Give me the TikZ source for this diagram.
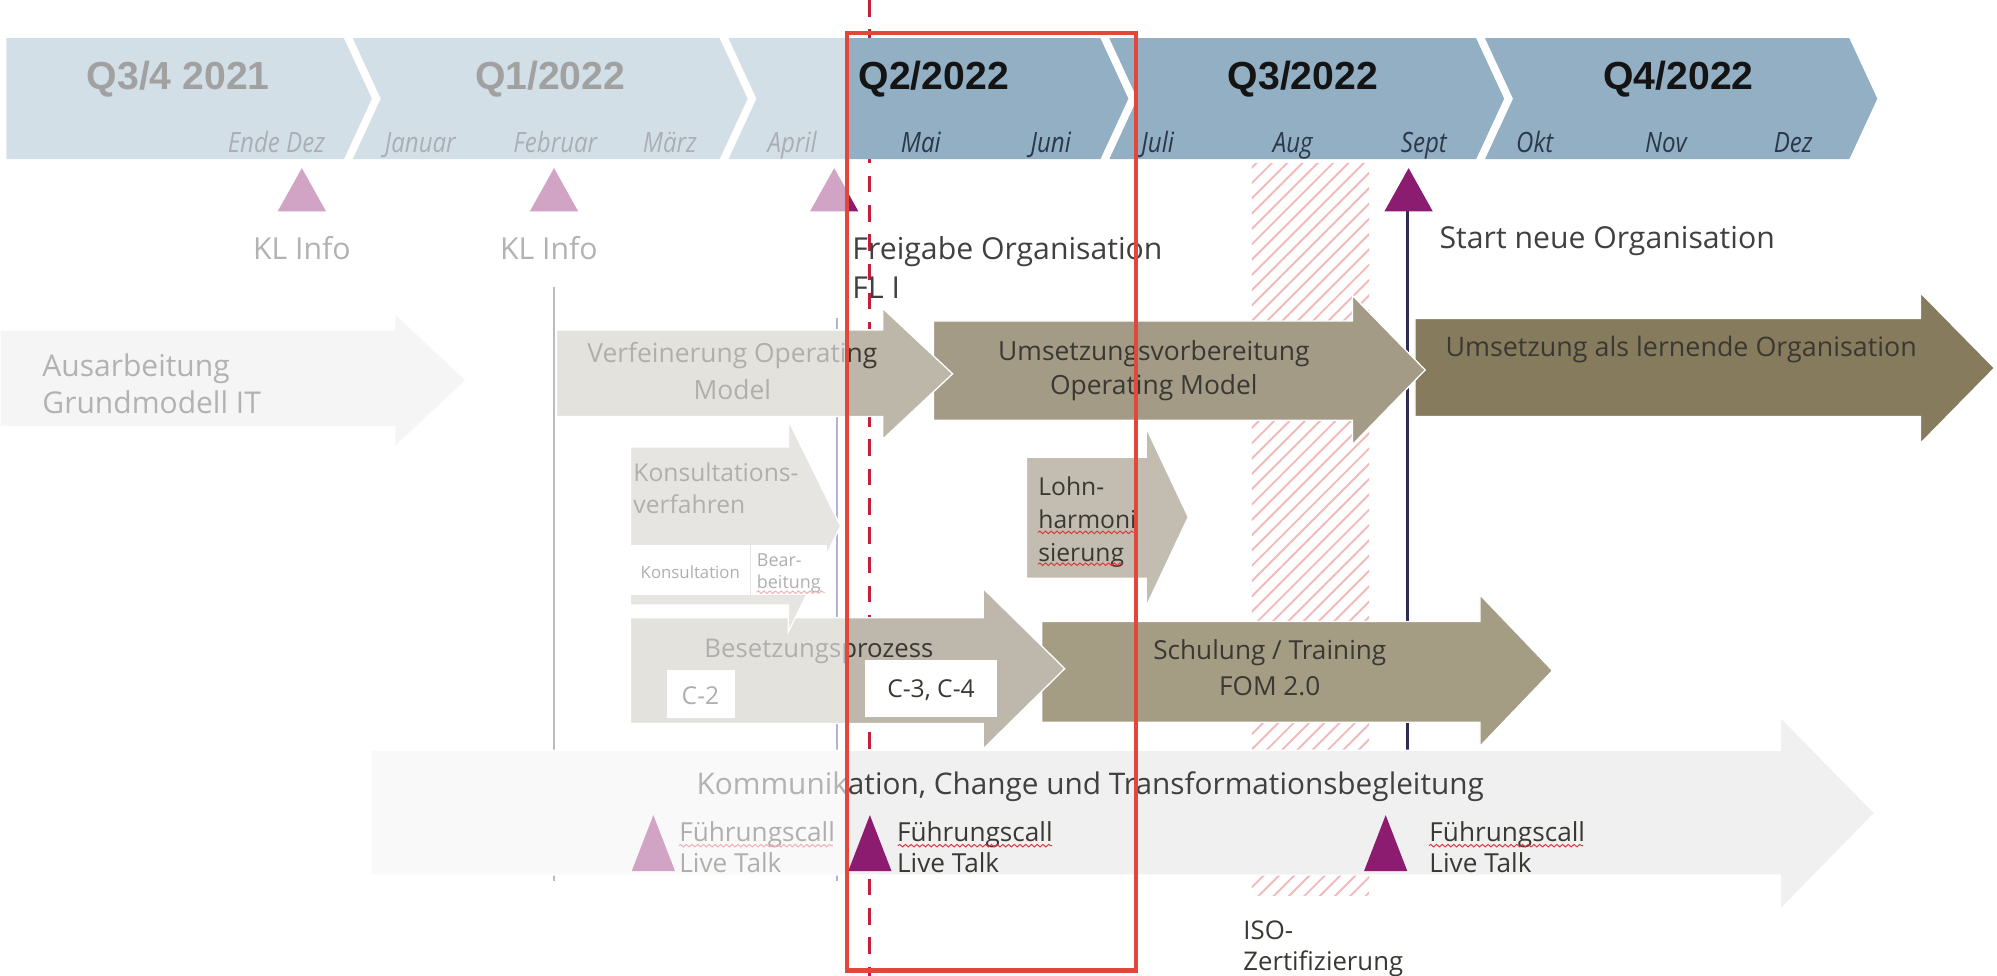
\documentclass[tikz,border=0pt]{standalone}
\usepackage{fontspec}
\setmainfont{Open Sans}
\newfontfamily\quarterfont{Liberation Sans}
\newfontfamily\monthfont[FakeStretch=0.86]{Open Sans}
\usetikzlibrary{patterns.meta,decorations.pathmorphing}

\definecolor{bandblue}{HTML}{93AFC4}
\definecolor{qtext}{HTML}{141414}
\definecolor{mtext}{HTML}{2A3848}
\definecolor{ptext}{HTML}{3A3833}
\definecolor{gtext}{HTML}{404040}
\definecolor{kommu}{HTML}{F0F0F0}
\definecolor{ausarb}{HTML}{E6E6E6}
\definecolor{verfein}{HTML}{BCB7A8}
\definecolor{umsvorb}{HTML}{A39B86}
\definecolor{umslern}{HTML}{867C5D}
\definecolor{schulung}{HTML}{A59C84}
\definecolor{besetz}{HTML}{BDB8AB}
\definecolor{lohn}{HTML}{C2BDB0}
\definecolor{konsult}{HTML}{C4C0B6}
\definecolor{milestone}{HTML}{8C1C6F}
\definecolor{navyline}{HTML}{2C2C54}
\definecolor{greyline}{HTML}{555566}
\definecolor{aprilline}{HTML}{44448C}
\definecolor{redbox}{HTML}{E2473B}
\definecolor{reddash}{HTML}{C41E3A}
\definecolor{hatchpink}{HTML}{F3B9B9}
\definecolor{squigred}{HTML}{E0353A}

\begin{document}
\begin{tikzpicture}[x=0.2mm, y=-0.2mm,
	quarter/.style={anchor=base, text=qtext, font=\quarterfont\bfseries\fontsize{17.5}{20}\selectfont},
	month/.style={anchor=base, text=mtext, font=\monthfont\itshape\fontsize{12.5}{14}\selectfont},
	note/.style={anchor=base west, align=left, inner sep=0pt, text=gtext, font=\fontsize{13.5}{17}\selectfont},
	phase/.style={anchor=base, align=center, inner sep=0pt, text=ptext, font=\fontsize{11.8}{15.5}\selectfont},
	smalltext/.style={anchor=base west, align=left, inner sep=0pt, text=ptext, font=\fontsize{11.5}{13.7}\selectfont},
	whitebox/.style={fill=white},
	squiggle/.style={draw=squigred, line width=0.15mm, decorate, decoration={snake, amplitude=0.2mm, segment length=0.9mm}}
]
	\useasboundingbox (0,0) rectangle (1568,766);

	% hatched ISO period and milestone lines
	\fill[pattern={Lines[angle=45,distance=1.7mm,line width=0.3mm]}, pattern color=hatchpink] (983,128) rectangle (1075,703);
	\coordinate (feb top) at (435,225);
	\coordinate (feb end) at (435,692);
	\coordinate (apr top) at (657,250);
	\coordinate (apr end) at (657,692);
	\coordinate (sept top) at (1105,166);
	\coordinate (sept end) at (1105,590);
	\draw[greyline, line width=0.35mm] (feb top) -- (feb end);
	\draw[aprilline, line width=0.35mm] (apr top) -- (apr end);
	\draw[navyline, line width=0.45mm] (sept top) -- (sept end);
	\draw[reddash, line width=0.5mm, dash pattern=on 2.6mm off 2mm] (683,0) -- (683,766);

	% quarter band
	\fill[bandblue] (5,30) -- (270,30) -- (292,77.5) -- (270,125) -- (5,125) -- cycle;
	\foreach \l / \r in { 277/565, 572/864, 871/1159, 1166/1452 }
	\fill[bandblue] (\l,30) -- (\r,30) -- (\r+22,77.5) -- (\r,125) -- (\l,125) -- (\l+22,77.5) -- cycle;
	\draw (140,70) node[quarter] (q34) {Q3/4 2021};
	\draw (432,70) node[quarter] (q1) {Q1/2022};
	\draw (668,70) node[quarter, anchor=base west] (q2) {Q2/2022};
	\draw (1023,70) node[quarter] (q3) {Q3/2022};
	\draw (1318,70) node[quarter] (q4) {Q4/2022};
	\foreach \x / \m in { 217/Ende Dez, 330/Januar, 436/Februar, 526/März, 622/April, 723/Mai, 825/Juni, 909/Juli, 1015/Aug, 1118/Sept, 1205/Okt, 1308/Nov, 1408/Dez }
	\draw (\x,120) node[month] (m\x) {\m};

	% phase arrows: colour / left / head base / tip / body top / body bottom / head top / head bottom
	\foreach \c / \xl / \xb / \xt / \bt / \bb / \ht / \hb in {
		kommu/291/1398/1472/589/687/563/714,
		umslern/1111/1508/1566/250/327/230/348,
		umsvorb/733/1062/1119/252/330/232/349,
		verfein/437/693/748/259/327/242/345,
		ausarb/0/310/366/259/335/246/351,
		schulung/818/1162/1219/488/567/467/586,
		besetz/495/772/836/485/568/462/588,
		lohn/806/900/933/359/454/336/476,
		konsult/495/619/660/351/475/330/496 }
	\filldraw[fill=\c, draw=white, line width=0.2mm] (\xl,\bt) -- (\xb,\bt) -- (\xb,\ht) -- (\xt,{(\ht+\hb)/2}) -- (\xb,\hb) -- (\xb,\bb) -- (\xl,\bb) -- cycle;
	\fill[whitebox] (491,428) rectangle (589,467);
	\fill[whitebox] (590,428) rectangle (649,467);
	\fill[whitebox] (524,526) rectangle (577,564);
	\fill[whitebox] (679,518) rectangle (783,563);

	% milestones
	\foreach \x in { 237, 435, 655, 1106 }
	\fill[milestone] (\x,132) -- (\x+19,166) -- (\x-19,166) -- cycle;
	\foreach \x in { 513, 683, 1088 }
	\fill[milestone] (\x,640) -- (\x+17,684) -- (\x-17,684) -- cycle;

	% texts (multi-line nodes sit on the baseline of their last line)
	\draw (237,204) node[note, anchor=base] (kl1) {KL Info};
	\draw (431,204) node[note, anchor=base] (kl2) {KL Info};
	\draw (669,234) node[note] (freigabe) {Freigabe Organisation\\FL I};
	\draw (1130,195) node[note] (start) {Start neue Organisation};
	\draw (33,325) node[note, font=\fontsize{13.4}{16.5}\selectfont] (ausarbeitung) {Ausarbeitung\\Grundmodell IT};
	\draw (575,314) node[phase, font=\fontsize{11.8}{16.5}\selectfont] (verfeinerung) {Verfeinerung Operating\\Model};
	\draw (906,310) node[phase] (vorbereitung) {Umsetzungsvorbereitung\\Operating Model};
	\draw (1320,280) node[phase, font=\fontsize{12}{15}\selectfont] (lernend) {Umsetzung als lernende Organisation};
	\draw (497,403) node[smalltext, font=\fontsize{11}{14.2}\selectfont] (konsultation) {Konsultations-\\verfahren};
	\draw (815,441) node[smalltext, font=\fontsize{11}{14.8}\selectfont] (lohnharm) {Lohn-\\harmoni\\sierung};
	\draw (643,516) node[phase, font=\fontsize{11.5}{14}\selectfont] (besetzung) {Besetzungsprozess};
	\draw (550,553) node[phase, font=\fontsize{11}{14}\selectfont] (c2) {C-2};
	\draw (731,548) node[phase, font=\fontsize{11}{14}\selectfont] (c34) {C-3, C-4};
	\draw (997,546) node[phase, font=\fontsize{11.7}{16}\selectfont] (schulung) {Schulung / Training\\FOM 2.0};
	\draw (856,624) node[phase, text=gtext, font=\fontsize{13.3}{16}\selectfont] (kommunikation) {Kommunikation, Change und Transformationsbegleitung};
	\draw (542,454) node[phase, font=\fontsize{7.5}{9}\selectfont] (kons) {Konsultation};
	\draw (594,462) node[smalltext, font=\fontsize{8}{9.7}\selectfont] (bearb) {Bear-\\beitung};
	\foreach \x in { 533, 704, 1122 }
	\draw (\x,685) node[smalltext, font=\fontsize{11.7}{13.7}\selectfont] (call\x) {Führungscall\\Live Talk};
	\draw (976,762) node[smalltext] (iso) {ISO-\\Zertifizierung};

	% spell check marks
	\draw[squiggle] (815,418) -- (890,418);
	\draw[squiggle] (815,443) -- (882,443);
	\draw[squiggle] (594,465) -- (648,465);
	\foreach \x in { 533, 705, 1122 }
	\draw[squiggle] (\x,664) -- (\x+121,664);

	% faded past and current quarter frame
	\fill[white, opacity=0.6] (0,0) rectangle (665,766);
	\draw[redbox, line width=0.7mm] (665,26) rectangle (892,762);
\end{tikzpicture}
\end{document}
